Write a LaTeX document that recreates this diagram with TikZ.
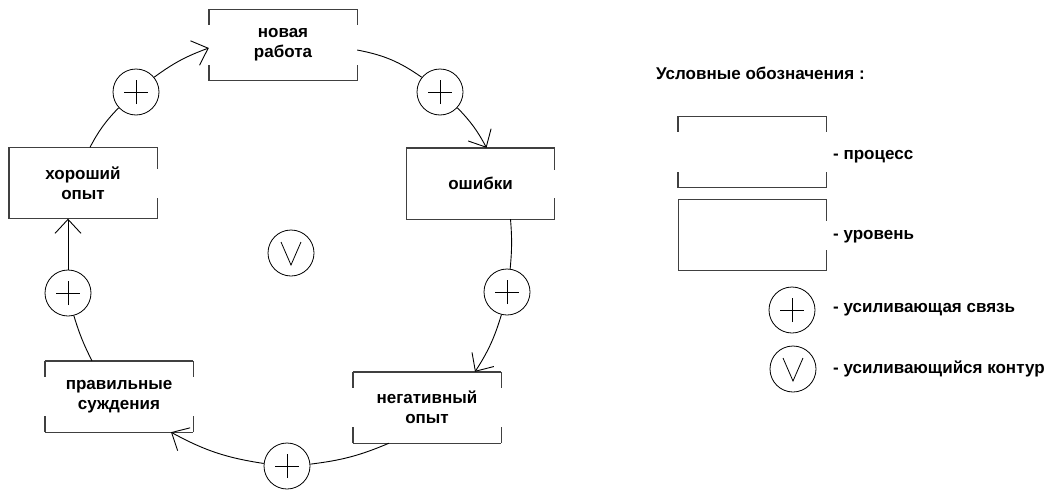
\documentclass[tikz,border=0pt]{standalone}
\usepackage{fontspec}
\setmainfont{Liberation Sans}
\usetikzlibrary{arrows.meta}
\newcommand{\diagfont}{\fontsize{17}{20}\selectfont\bfseries}
\tikzset{%
	box/.style      = {minimum width=148pt, minimum height=71pt, inner sep=0pt, align=center, font=\diagfont},
	processbox/.style = {box, append after command={\pgfextra{\let\boxnode\tikzlastnode}
		[every edge/.style={draw, boxline}]
		(\boxnode.north west) edge (\boxnode.north east)
		(\boxnode.south west) edge (\boxnode.south east)
		(\boxnode.north west) edge ([yshift=-16pt]\boxnode.north west)
		(\boxnode.south west) edge ([yshift=16pt]\boxnode.south west)
		(\boxnode.north east) edge ([yshift=-16pt]\boxnode.north east)
		(\boxnode.south east) edge ([yshift=16pt]\boxnode.south east)}},
	levelbox/.style = {box, append after command={\pgfextra{\let\boxnode\tikzlastnode}
		[every edge/.style={draw, boxline}]
		(\boxnode.north west) edge (\boxnode.north east)
		(\boxnode.south west) edge (\boxnode.south east)
		(\boxnode.north west) edge (\boxnode.south west)
		(\boxnode.north east) edge ([yshift=-22pt]\boxnode.north east)
		(\boxnode.south east) edge ([yshift=21pt]\boxnode.south east)}},
	boxline/.style  = {line width=1.4pt, black!75},
	plus/.style     = {draw, circle, minimum size=46pt, inner sep=0pt, line width=0.8pt,
		path picture={\draw[line width=0.8pt] ([xshift=-12pt]path picture bounding box.center) -- ([xshift=12pt]path picture bounding box.center)
			([yshift=-12pt]path picture bounding box.center) -- ([yshift=12pt]path picture bounding box.center);}},
	loop/.style     = {draw, circle, minimum size=46pt, inner sep=0pt, line width=0.8pt,
		path picture={\draw[line width=0.8pt] ([shift={(-10pt,11pt)}]path picture bounding box.center) -- ++(10pt,-23pt) -- ++(10pt,23pt);}},
	link/.style     = {line width=0.9pt},
	arrow/.style    = {line width=0.9pt, -{Straight Barb[length=14pt,width=26pt,line width=0.9pt]}},
	legend/.style   = {anchor=west, inner sep=0pt, font=\diagfont},
}
\begin{document}
\begin{tikzpicture}[x=1pt, y=-1pt]
	\useasboundingbox (0,0) rectangle (1047,490);
	
	% loop boxes
	\node[processbox] (work) at (283,45) {новая\\работа};
	\node[levelbox] (good) at (83,183) {хороший\\опыт};
	\node[levelbox] (errors) at (480.5,183.5) {ошибки};
	\node[processbox] (neg) at (427,407.5) {негативный\\опыт};
	\node[processbox] (judg) at (119,396.5) {правильные\\суждения};
	
	% links
	\node[plus] (A) at (136,92) {};
	\node[plus] (B) at (440,92) {};
	\node[plus] (C) at (507,292) {};
	\node[plus] (D) at (287,466) {};
	\node[plus] (E) at (68,293) {};
	\node[loop] (R) at (291,253) {};
	
	\draw[link] ([xshift=7pt]good.north) to[bend left=8] (A);
	\draw[arrow] (A) to[bend left=8] ([yshift=-3pt]work.west);
	\draw[link] ([yshift=-5pt]work.east) to[bend left=12] (B);
	\draw[arrow] (B) to[bend left=8] ([xshift=6pt]errors.north);
	\draw[link] ([xshift=30pt]errors.south) to[bend left=5] (C);
	\draw[arrow] (C) to[bend left=8] ([xshift=48pt]neg.north);
	\draw[link] ([xshift=-38pt]neg.south) to[bend left=8] (D);
	\draw[arrow] (D) to[bend left=10] ([xshift=52pt]judg.south);
	\draw[link] ([xshift=-27pt]judg.north) to[bend left=5] (E);
	\draw[arrow] (E) to (good.south -| E);
	
	% legend
	\node[legend] (title) at (656,73) {Условные обозначения :};
	\node[processbox] (lproc) at (752,152) {};
	\node[levelbox] (llevel) at (752.5,235) {};
	\node[plus] (lplus) at (792,310) {};
	\node[loop] (lloop) at (793,369) {};
	\node[legend] (tproc) at (833,157) {- процесс};
	\node[legend] (tlevel) at (833,237) {- уровень};
	\node[legend] (tplus) at (833,310) {- усиливающая связь};
	\node[legend] (tloop) at (833,369) {- усиливающийся контур};
\end{tikzpicture}
\end{document}
